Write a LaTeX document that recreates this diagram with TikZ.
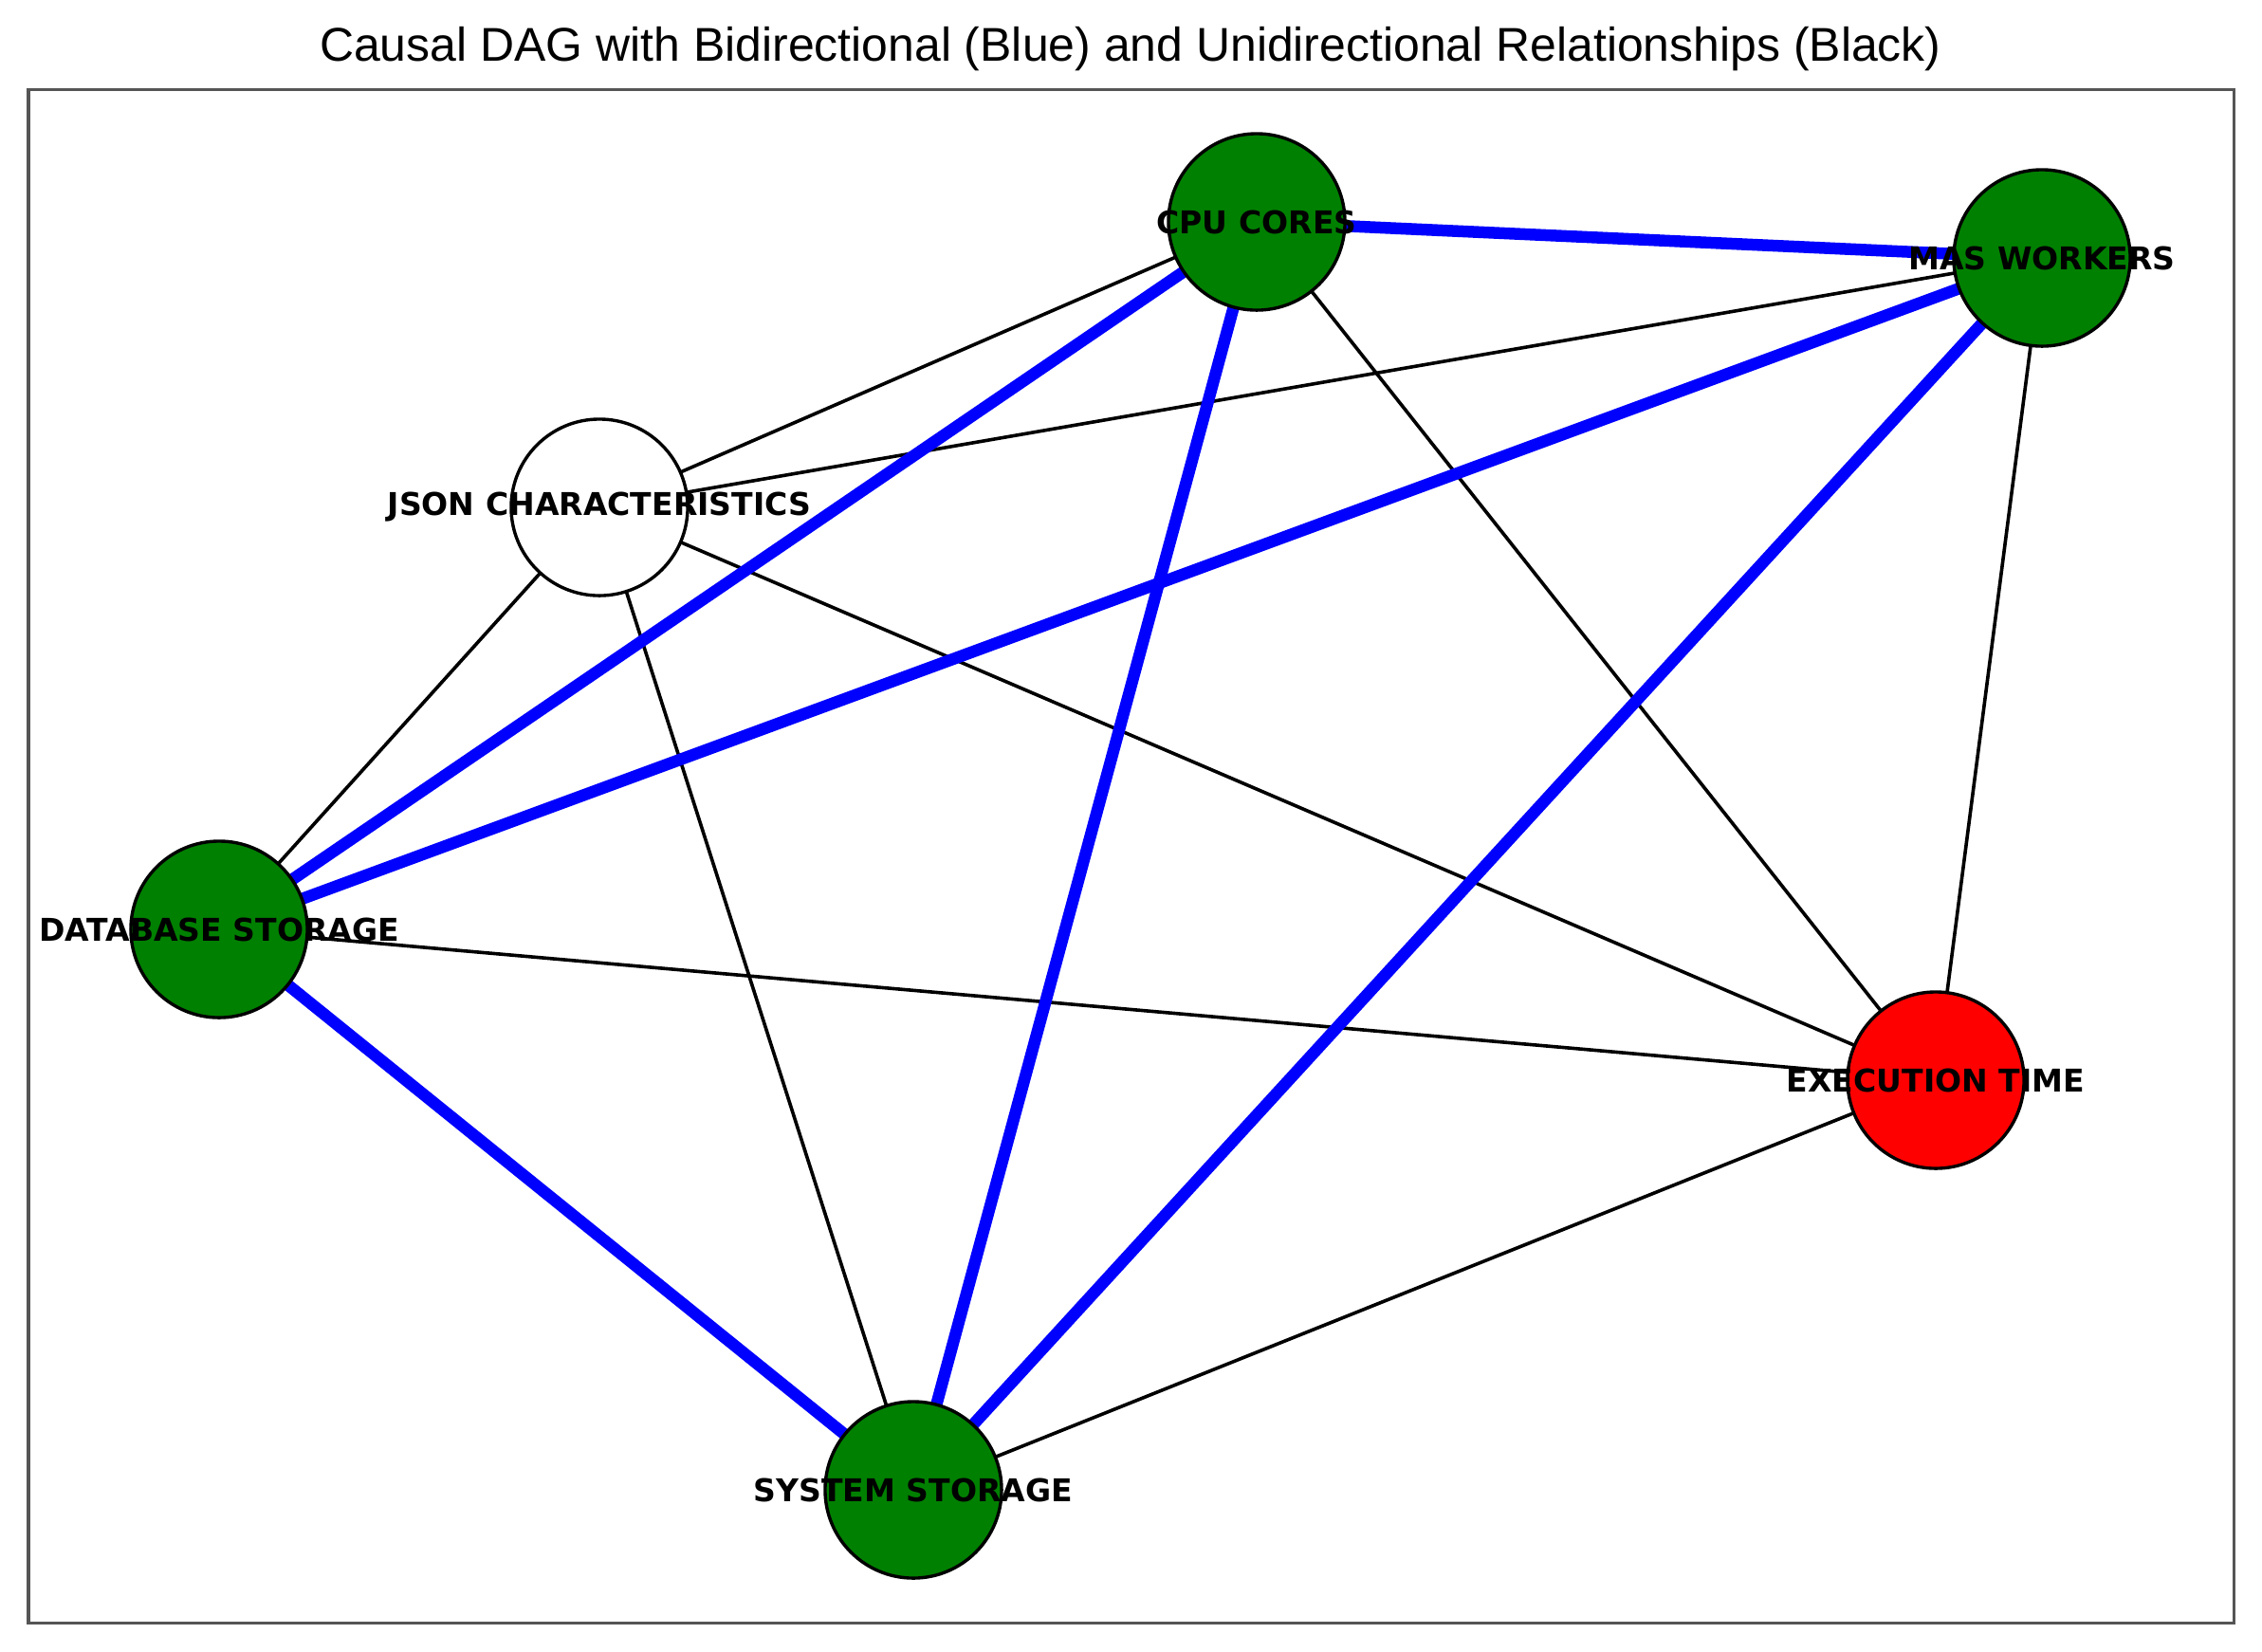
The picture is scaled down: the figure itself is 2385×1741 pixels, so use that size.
\documentclass[tikz,border=0pt]{standalone}
\usepackage{fontspec}
\newfontfamily\lblfont{DejaVu Sans}
\newfontfamily\titlefont{Liberation Sans}
\usetikzlibrary{backgrounds}
\definecolor{nxgreen}{RGB}{0,128,0}
\definecolor{nxred}{RGB}{255,0,0}
\definecolor{nxblue}{RGB}{0,0,255}
\definecolor{framegray}{RGB}{85,85,85}
\tikzset{
  circ/.style={circle, draw=black, line width=0.034cm, minimum size=1.86cm, inner sep=0pt},
  lbl/.style={font=\lblfont\bfseries\fontsize{9.4}{10}\selectfont, inner sep=0pt, text=black},
  uni/.style={draw=black, line width=0.036cm},
  bi/.style={draw=nxblue, line width=0.125cm},
  frame/.style={draw=framegray, line width=0.03cm},
  titlestyle/.style={font=\titlefont\fontsize{14.2}{16}\selectfont, inner sep=0pt}
}
\begin{document}
\begin{tikzpicture}[x=0.01cm,y=-0.01cm]
\useasboundingbox (0,0) rectangle (2385,1741);
\node[titlestyle] (title) at (1192,52) {Causal DAG with Bidirectional (Blue) and Unidirectional Relationships (Black)};
% nodes
\node[circ, fill=nxgreen] (cpu) at (1325,234) {};
\node[circ, fill=nxgreen] (mas) at (2153,272) {};
\node[circ, fill=white] (json) at (632,535) {};
\node[circ, fill=nxgreen] (db) at (231,980) {};
\node[circ, fill=nxred] (exe) at (2041,1139) {};
\node[circ, fill=nxgreen] (sys) at (963,1571) {};
\begin{pgfonlayer}{background}
\draw[frame] (30,94) rectangle (2355,1711);
% unidirectional (black)
\draw[uni] (json.center) -- (cpu.center);
\draw[uni] (json.center) -- (mas.center);
\draw[uni] (json.center) -- (db.center);
\draw[uni] (json.center) -- (sys.center);
\draw[uni] (json.center) -- (exe.center);
\draw[uni] (cpu.center) -- (exe.center);
\draw[uni] (mas.center) -- (exe.center);
\draw[uni] (db.center) -- (exe.center);
\draw[uni] (sys.center) -- (exe.center);
% bidirectional (blue)
\draw[bi] (cpu.center) -- (mas.center);
\draw[bi] (cpu.center) -- (db.center);
\draw[bi] (cpu.center) -- (sys.center);
\draw[bi] (mas.center) -- (db.center);
\draw[bi] (mas.center) -- (sys.center);
\draw[bi] (db.center) -- (sys.center);
\end{pgfonlayer}
% labels
\node[lbl] (cpuL) at (cpu) {CPU CORES};
\node[lbl] (masL) at (mas) {MAS WORKERS};
\node[lbl] (jsonL) at (json) {JSON CHARACTERISTICS};
\node[lbl] (dbL) at (db) {DATABASE STORAGE};
\node[lbl] (exeL) at (exe) {EXECUTION TIME};
\node[lbl] (sysL) at (sys) {SYSTEM STORAGE};
\end{tikzpicture}
\end{document}
